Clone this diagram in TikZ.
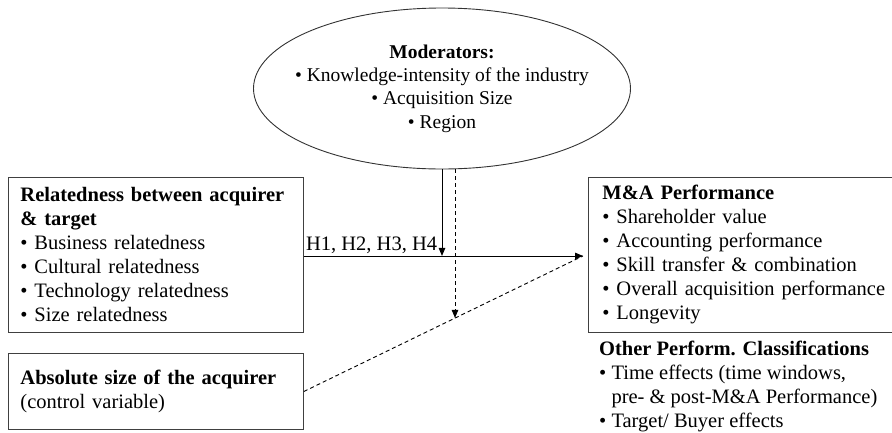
\documentclass[tikz,border=0pt]{standalone}
\usepackage{fontspec}
\setmainfont{Liberation Serif}
\usetikzlibrary{arrows.meta,shapes.geometric,calc}
\begin{document}
\begin{tikzpicture}[x=1pt,y=-1pt,
  box/.style={draw=black!75, line width=0.9pt, anchor=north west, inner xsep=12pt, inner ysep=0pt, align=left, font=\fontsize{20.5}{24}\selectfont},
  conn/.style={line width=0.9pt, -{Triangle[length=8pt,width=6.5pt]}},
  dconn/.style={conn, dash pattern=on 4pt off 3pt},
  dline/.style={line width=0.9pt, dash pattern=on 4pt off 3pt},
  lbl/.style={font=\fontsize{20.5}{24}\selectfont}
]
\useasboundingbox (0,0) rectangle (892,432);
\node[draw=black!80, line width=0.9pt, ellipse, minimum width=377pt, minimum height=161pt, inner sep=0pt] (mod) at (442,88.5) {};
\node[align=center, inner sep=0pt, font=\fontsize{19.5}{23.3}\selectfont] (modtext) at (mod.center)
  {\textbf{Moderators:}\\ • Knowledge-intensity of the industry\\ • Acquisition Size\\ • Region};
\node[box, text width=271pt, minimum height=155pt] (rel) at (8,177)
  {\textbf{Relatedness between acquirer}\\ \textbf{\& target}\\ • Business relatedness\\ • Cultural relatedness\\ • Technology relatedness\\ • Size relatedness};
\node[box, text width=271pt, minimum height=76pt] (abs) at (8,353)
  {\textbf{Absolute size of the acquirer}\\ (control variable)};
\node[box, inner xsep=14pt, text width=292pt, minimum height=155pt] (perf) at (588,177)
  {\textbf{M\&A Performance}\\ • Shareholder value\\ • Accounting performance\\ • Skill transfer \& combination\\ • Overall acquisition performance\\ • Longevity};
\node[lbl, anchor=north west, inner sep=0pt, align=left] (other) at (599,341)
  {\textbf{Other Perform. Classifications}\\ • Time effects (time windows,\\ \hphantom{• }pre- \& post-M\&A Performance)\\ • Target/ Buyer effects};
\node[lbl, anchor=south west, inner xsep=2pt, inner ysep=1pt] (hl) at (rel.east) {H1, H2, H3, H4};
\coordinate (tip) at ($(perf.west)+(-5,1)$);
\coordinate (hit) at (mod.south |- tip);
\coordinate (dtop) at ($(mod.south)+(13,0)$);
\coordinate (dbot) at ($(abs.east)!0.543!(tip)$);
\draw[conn] (rel.east |- tip) -- (tip);
\draw[conn] (mod.south) -- (hit);
\draw[dline] (abs.east) -- (tip);
\draw[dconn] (dtop) -- (dtop |- dbot);
\end{tikzpicture}
\end{document}
